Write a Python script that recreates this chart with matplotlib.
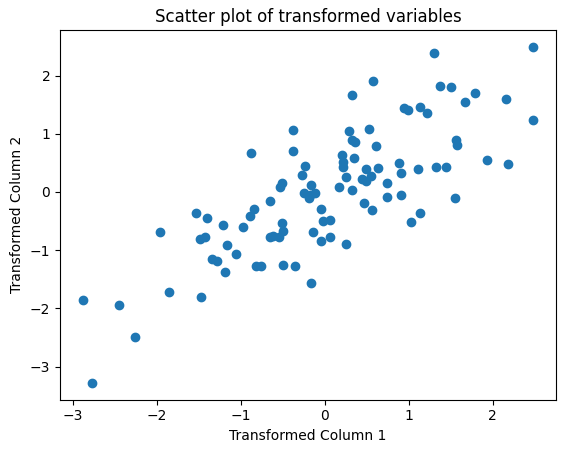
import matplotlib
matplotlib.use("Agg")
import matplotlib.pyplot as plt

x_values = [0.580, 0.321, -0.381, 0.286, 0.524, 0.326, 0.357, 0.615, -0.881, -0.381,
            0.202, 0.219, 0.214, 0.345, -0.238, -0.274, 0.488, 0.631, 0.250, 0.445,
            0.496, 0.556, -0.504, -0.536, -0.170, 0.735, 0.167, 0.321, -0.250, -0.179,
            -0.119, -0.186, 0.735, -0.655, 0.464, -0.051, 0.560, -0.845, -0.893, 1.298,
            2.476, 1.369, 1.508, 1.786, 1.667, 2.163, 0.949, 0.988, 1.131, 1.219,
            2.485, 1.560, 1.571, 1.929, 2.179, 0.881, 0.905, 1.107, 1.330, 1.445,
            0.905, 1.548, 1.131, 1.024, -1.539, -1.408, -1.218, -1.968, -1.488, -1.432,
            -1.170, -1.349, -1.289, -1.190, -2.885, -2.456, -1.861, -1.476, -2.262, -2.777,
            -0.976, -0.504, -0.500, -0.655, -0.614, -0.548, -0.143, -0.019, 0.060, -0.048,
            0.060, 0.250, -1.063, -0.825, -0.765, -0.500, -0.357, -0.170]

y_values = [1.909, 1.667, 1.064, 1.047, 1.081, 0.897, 0.867, 0.788, 0.667, 0.712,
            0.633, 0.522, 0.436, 0.581, 0.443, 0.288, 0.402, 0.414, 0.253, 0.219,
            0.195, 0.281, 0.155, 0.081, 0.121, 0.150, 0.086, 0.029, -0.017, -0.047,
            -0.022, -0.109, -0.091, -0.160, -0.195, -0.298, -0.316, -0.293, -0.409, 2.391,
            2.495, 1.822, 1.805, 1.707, 1.552, 1.598, 1.443, 1.409, 1.460, 1.357,
            1.241, 0.897, 0.805, 0.547, 0.478, 0.495, 0.322, 0.397, 0.431, 0.431,
            -0.052, -0.109, -0.367, -0.522, -0.367, -0.453, -0.574, -0.695, -0.816, -0.781,
            -0.919, -1.155, -1.195, -1.379, -1.850, -1.936, -1.724, -1.798, -2.500, -3.280,
            -0.609, -0.540, -0.672, -0.771, -0.759, -0.781, -0.695, -0.505, -0.488, -0.850,
            -0.781, -0.902, -1.069, -1.276, -1.276, -1.259, -1.276, -1.569]

W, H = 565, 453
fig = plt.figure(figsize=(W / 100, H / 100), dpi=100)
ax = fig.add_axes([60 / W, (H - 399.6) / H, 496 / W, 369.6 / H])
ax.scatter(x_values, y_values)
ax.set_title("Scatter plot of transformed variables")
ax.set_xlabel("Transformed Column 1")
ax.set_ylabel("Transformed Column 2")
fig.savefig("out.png", dpi=100)
